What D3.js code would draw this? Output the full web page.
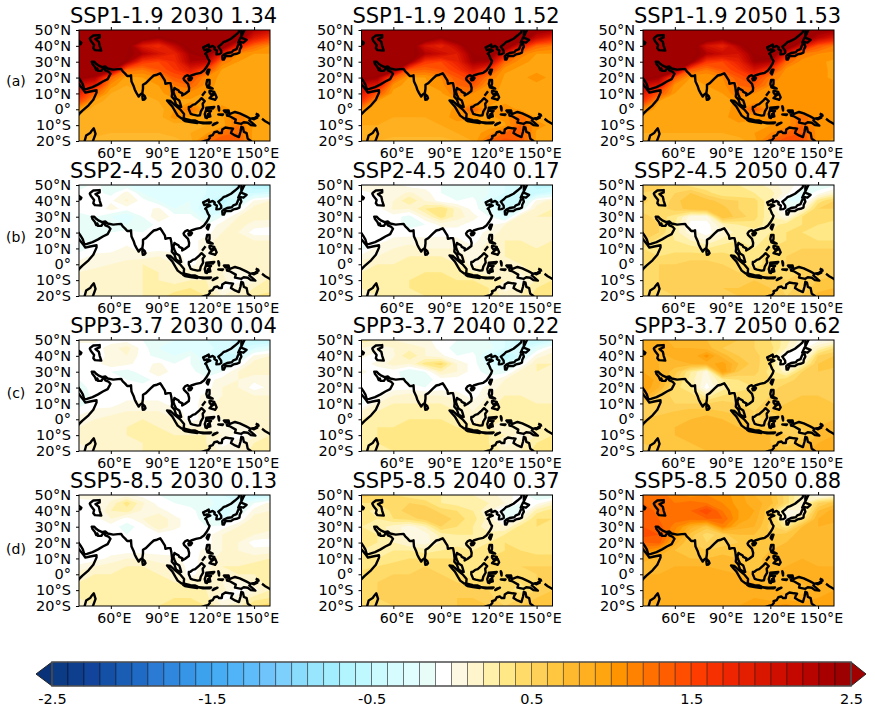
<!DOCTYPE html>
<html>
<head>
<meta charset="utf-8">
<script src="https://cdn.jsdelivr.net/npm/d3@7"></script>
<style>
body { margin: 0; background: #fff; }
text { font-family: "DejaVu Sans", sans-serif; fill: #000; }
</style>
</head>
<body>
<script>
// Grid the fields are read on: 10 deg in longitude, 5 deg in latitude
var gridLons = [40, 50, 60, 70, 80, 90, 100, 110, 120, 130, 140, 150, 160];
var gridLats = [50, 45, 40, 35, 30, 25, 20, 15, 10, 5, 0, -5, -10, -15, -20];

var titles = ["SSP1-1.9 2030 1.34", "SSP1-1.9 2040 1.52", "SSP1-1.9 2050 1.53",
    "SSP2-4.5 2030 0.02", "SSP2-4.5 2040 0.17", "SSP2-4.5 2050 0.47",
    "SPP3-3.7 2030 0.04", "SPP3-3.7 2040 0.22", "SPP3-3.7 2050 0.62",
    "SSP5-8.5 2030 0.13", "SSP5-8.5 2040 0.37", "SSP5-8.5 2050 0.88"];
var rowLabels = ["(a)", "(b)", "(c)", "(d)"];
var lonTicks = [60, 90, 120, 150];
var latTicks = [50, 40, 30, 20, 10, 0, -10, -20];
var barTicks = [-2.5, -1.5, -0.5, 0.5, 1.5, 2.5];

// Colour of each 0.1 wide band from -2.5 to 2.5, then the two extend arrows
var bandColors = ["#0c3b86", "#0e3f8f", "#11449a", "#1450a6", "#1a5db5", "#1f6ac4", "#2b7ad4", "#3088de", "#3695e6", "#3ca2ee",
    "#46acf4", "#52b4f8", "#5ebcfa", "#70c4fc", "#7dd0fc", "#8adcfd", "#97e6fe", "#a2eefe", "#b2f5ff", "#bff8ff",
    "#ccfbff", "#d6fcff", "#e0feff", "#e8fdf8", "#ffffff",
    "#fcf8e2", "#fff5cc", "#fff0aa", "#ffe885", "#ffdc6a", "#ffd058", "#ffc640", "#ffb92f", "#ffb020", "#ffa510",
    "#ff9400", "#ff8200", "#ff7000", "#ff5e00", "#ff4e00", "#ff3c00", "#f63000", "#ee2500", "#e41e00", "#d91600",
    "#cf0e00", "#c40800", "#b80400", "#a80000", "#9c0000"];
var lowColor = "#0a3278", highColor = "#a00000";

var ssp119_2030 = [
[2.8,2.8,2.8,2.8,2.8,2.7,2.8,2.8,2.8,2.7,2.6,2.3,2.1],
[2.8,2.8,2.8,2.8,2.6,2.4,2.6,2.7,2.8,2.8,2.6,1.9,1.6],
[2.8,2.8,2.8,2.6,1.9,1.7,2.2,2.6,2.8,2.7,1.8,1.3,1.1],
[2.8,2.8,2.7,2.5,2.3,2.0,1.8,2.4,2.6,1.8,1.1,1.0,1.0],
[2.8,2.8,2.8,2.4,1.6,1.5,1.7,2.3,2.2,1.2,1.0,.95,.95],
[2.8,2.8,2.5,1.3,1.2,1.4,1.6,1.9,1.5,.98,.95,.95,.95],
[2.5,2.3,1.3,.95,1.0,1.1,1.4,1.5,1.1,.95,.95,.95,.95],
[2.0,1.8,1.05,.9,.95,1.0,1.2,1.3,1.05,.95,.95,.95,.95],
[1.8,1.3,.9,.85,.9,.95,1.1,1.05,.98,.95,.95,.95,.95],
[1.5,.95,.85,.85,.85,.9,.95,.98,.98,.95,.95,.95,.95],
[1.0,.85,.85,.85,.85,.85,1.0,1.25,.95,1.05,.95,.95,.95],
[.85,.85,.85,.85,.85,.85,1.05,.98,.95,.98,1.2,.95,.95],
[.85,.85,.85,.8,.8,.85,.85,.85,.9,.95,1.2,.98,.95],
[.85,.85,.8,.8,.8,.8,.85,.9,.98,1.25,1.3,.95,.95],
[.8,.75,.75,.7,.7,.7,.75,.85,1.25,1.4,1.35,.95,.9]];

var ssp119_2040 = [
[2.8,2.8,2.8,2.8,2.8,2.8,2.8,2.8,2.8,2.8,2.7,2.5,2.4],
[2.8,2.8,2.8,2.8,2.7,2.4,2.7,2.8,2.8,2.8,2.7,2.1,1.8],
[2.8,2.8,2.8,2.7,2.0,1.8,2.2,2.7,2.8,2.8,1.9,1.3,1.2],
[2.8,2.8,2.8,2.6,2.3,2.1,1.9,2.5,2.7,1.9,1.2,1.0,1.0],
[2.8,2.8,2.8,2.5,1.6,1.5,1.8,2.4,2.3,1.3,1.02,.98,.98],
[2.8,2.8,2.6,1.4,1.3,1.4,1.6,2.0,1.6,1.02,.98,.98,.98],
[2.6,2.4,1.4,.98,1.0,1.1,1.4,1.6,1.2,.98,.98,1.03,.98],
[2.1,1.9,1.05,.95,.98,1.05,1.3,1.4,1.05,.98,.98,.98,.98],
[1.9,1.4,.95,.9,.95,.98,1.2,1.1,1.02,.98,.98,.98,.98],
[1.6,1.0,.9,.9,.9,.95,.98,1.03,1.03,.98,.98,.98,.98],
[1.1,.9,.9,.95,.9,.9,1.05,1.35,.98,1.05,.98,.98,.98],
[.9,.9,.9,.9,.9,.9,1.1,1.03,.98,1.03,1.3,.98,.98],
[.9,.9,.85,.85,.85,.9,.9,.9,.95,.98,1.3,1.03,.98],
[.85,.85,.85,.85,.85,.85,.9,.95,1.05,1.3,1.35,.98,.98],
[.8,.8,.75,.75,.75,.75,.8,.9,1.3,1.45,1.4,.98,.95]];

var ssp119_2050 = [
[2.8,2.8,2.8,2.8,2.8,2.8,2.8,2.8,2.8,2.8,2.7,2.5,2.4],
[2.8,2.8,2.8,2.8,2.7,2.5,2.7,2.8,2.8,2.8,2.7,2.2,1.9],
[2.8,2.8,2.8,2.7,2.0,1.8,2.3,2.7,2.8,2.8,2.0,1.4,1.2],
[2.8,2.8,2.8,2.6,2.3,2.1,2.0,2.5,2.7,1.9,1.2,1.1,1.05],
[2.8,2.8,2.8,2.5,1.6,1.5,1.8,2.4,2.3,1.3,1.05,1.02,.98],
[2.8,2.8,2.6,1.4,1.2,1.4,1.6,2.0,1.6,1.05,1.03,1.03,.98],
[2.6,2.4,1.4,1.0,1.0,1.1,1.4,1.6,1.2,1.03,1.03,1.03,.98],
[2.1,1.9,1.05,.95,1.0,1.05,1.3,1.4,1.1,1.03,1.03,1.03,1.03],
[1.9,1.4,1.0,.95,.95,1.0,1.2,1.1,1.05,1.03,1.03,1.03,1.03],
[1.6,1.0,.95,.95,.95,.95,1.03,1.03,1.03,1.03,1.03,1.03,1.03],
[1.1,.95,.95,.95,.95,.95,1.05,1.4,1.0,1.1,1.03,1.03,1.03],
[.95,.95,.95,.95,.95,.95,1.1,1.03,1.03,1.03,1.3,1.03,1.03],
[.95,.95,.9,.9,.9,.95,.95,.95,1.0,1.03,1.3,1.03,1.03],
[.9,.9,.9,.9,.9,.9,.95,1.0,1.1,1.3,1.4,1.03,1.03],
[.85,.85,.8,.8,.8,.85,.85,.95,1.3,1.5,1.45,1.03,.98]];

var ssp245_2030 = [
[-.2,-.05,-.2,-.2,-.25,-.3,-.3,-.3,-.3,-.35,-.45,-.6,-.7],
[-.05,-.05,-.15,.05,-.2,-.3,-.3,-.3,-.3,-.35,-.4,-.4,-.35],
[-.05,-.05,-.02,.12,-.05,-.2,-.25,-.2,-.35,-.55,-.4,.02,.1],
[-.05,-.1,.05,-.05,-.05,.03,-.2,-.2,-.4,-.45,-.1,.15,.15],
[-.15,-.1,-.2,-.3,-.1,.1,-.05,-.05,-.3,-.1,.1,.15,.15],
[-.15,-.15,-.15,-.2,-.2,-.05,-.05,-.05,-.1,.05,.15,.05,.02],
[-.2,-.15,-.1,-.05,-.1,-.05,-.05,-.05,-.05,.1,.1,-.05,-.05],
[-.2,-.1,-.05,-.05,-.05,-.05,-.05,-.05,.05,.15,.15,.1,.1],
[-.15,-.05,-.05,.03,-.05,-.05,-.05,-.05,.05,.15,.2,.15,.15],
[-.05,.03,.05,.05,.05,.1,.05,-.05,.05,.15,.15,.15,.15],
[.05,.05,.1,.15,.2,.15,.1,-.05,.1,.1,.15,.15,.2],
[.1,.15,.15,.15,.2,.2,.15,.15,.1,.1,.05,.15,.2],
[.1,.15,.15,.15,.2,.2,.15,.2,.2,.15,-.05,.05,.25],
[.1,.15,.15,.15,.2,.2,.25,.3,.25,-.05,.1,.2,.25],
[.05,.15,.15,.15,.2,.25,.35,.4,.3,.1,.15,.3,.35]];

var ssp245_2040 = [
[.1,.1,.05,-.05,-.05,-.1,-.15,-.15,-.2,-.3,-.4,-.55,-.55],
[-.05,.03,.05,.12,.05,-.1,-.15,-.15,-.2,-.3,-.4,-.45,-.35],
[-.05,-.05,.1,.3,.1,-.05,-.1,-.05,-.3,-.5,-.45,.03,.15],
[-.05,-.05,.12,.1,.3,.4,.15,-.05,-.2,-.4,-.2,.15,.2],
[-.05,-.05,-.05,-.15,.1,.35,.15,.05,-.1,-.3,.15,.2,.2],
[-.05,-.05,-.05,-.15,-.1,.03,.03,-.05,-.05,.1,.15,.1,.1],
[-.1,-.05,-.05,-.05,-.05,-.05,-.05,-.05,.03,.15,.15,.1,.1],
[-.1,-.05,.03,.05,.03,.05,.03,-.05,.1,.2,.2,.15,.2],
[-.15,.05,.1,.15,.1,.1,.1,.03,.15,.2,.2,.2,.25],
[.05,.1,.15,.2,.2,.2,.15,.05,.15,.2,.2,.2,.25],
[.15,.2,.2,.25,.25,.25,.2,.05,.15,.15,.2,.25,.25],
[.2,.25,.25,.25,.3,.3,.25,.2,.15,.1,.1,.25,.3],
[.2,.25,.25,.3,.3,.3,.3,.3,.25,.2,.05,.2,.3],
[.2,.25,.25,.3,.3,.3,.3,.35,.3,.05,.15,.3,.35],
[.15,.2,.25,.25,.3,.3,.35,.4,.3,.15,.2,.35,.35]];

var ssp245_2050 = [
[.55,.55,.45,.35,.3,.35,.3,.25,.15,.05,-.05,-.2,-.15],
[.5,.45,.5,.6,.45,.3,.3,.3,.25,.05,-.2,-.05,.15],
[.55,.4,.55,.7,.65,.55,.5,.45,.2,-.2,-.25,.35,.5],
[.45,.45,.55,.65,.7,.65,.5,.45,.2,-.15,.1,.5,.5],
[.55,.45,.35,.05,.05,.7,.55,.45,.2,.05,.4,.45,.45],
[.6,.5,.3,-.05,-.05,.2,.3,.35,.25,.35,.4,.4,.35],
[.55,.5,.25,.05,-.05,.1,.25,.25,.3,.4,.4,.3,.3],
[.5,.35,.3,.2,.1,.25,.3,.25,.35,.4,.4,.4,.4],
[.4,.35,.35,.35,.3,.35,.35,.3,.4,.45,.5,.5,.5],
[.4,.4,.45,.45,.45,.45,.4,.35,.45,.5,.5,.5,.5],
[.4,.5,.5,.55,.55,.5,.45,.35,.45,.5,.5,.5,.5],
[.45,.5,.5,.55,.55,.55,.5,.45,.5,.45,.5,.55,.55],
[.45,.5,.55,.55,.55,.55,.55,.6,.55,.5,.5,.6,.65],
[.45,.5,.5,.55,.55,.6,.6,.6,.6,.45,.55,.65,.7],
[.4,.45,.5,.5,.55,.55,.6,.65,.65,.5,.6,.75,.75]];

var spp370_2030 = [
[.03,.03,-.05,-.05,-.1,-.2,-.2,-.25,-.3,-.35,-.45,-.55,-.55],
[-.05,-.05,.05,.15,-.05,-.2,-.25,-.25,-.25,-.35,-.4,-.3,-.2],
[-.05,-.05,.03,.1,-.05,-.15,-.2,-.1,-.3,-.5,-.4,.03,.1],
[-.05,-.05,.08,.03,-.05,.03,-.1,-.1,-.25,-.4,-.1,.15,.15],
[-.1,-.05,-.1,-.15,-.05,.08,-.05,-.05,-.2,-.1,.1,.15,.15],
[-.1,-.05,-.05,-.1,-.15,-.05,-.05,-.05,-.05,.05,.1,.03,.03],
[-.15,-.05,-.05,-.05,-.05,-.05,-.05,-.05,-.05,.1,.1,-.05,.03],
[-.2,-.05,-.05,-.05,-.05,-.05,-.05,-.05,.03,.1,.15,.1,.1],
[-.15,-.05,-.05,.03,.03,.03,-.05,-.05,.05,.15,.15,.15,.15],
[-.05,.03,.05,.1,.1,.1,.05,-.05,.05,.15,.15,.15,.15],
[.05,.1,.15,.15,.2,.15,.1,-.05,.05,.1,.15,.15,.2],
[.1,.15,.15,.2,.2,.2,.15,.1,.1,.05,.05,.15,.2],
[.1,.15,.15,.2,.2,.2,.2,.2,.2,.1,-.05,.05,.2],
[.1,.15,.15,.15,.2,.2,.25,.25,.2,-.05,.05,.2,.25],
[.05,.1,.15,.15,.2,.25,.3,.3,.25,.05,.1,.25,.3]];

var spp370_2040 = [
[.25,.2,.1,.05,.03,-.05,-.1,-.15,-.2,-.3,-.5,-.55,-.4],
[.1,.05,.1,.15,.1,-.05,-.15,-.15,-.15,-.3,-.4,-.2,.03],
[.03,-.05,.08,.3,.1,.03,-.1,-.05,-.35,-.6,-.35,.05,.15],
[-.05,.03,.15,.1,.35,.45,.1,-.05,-.25,-.45,-.1,.2,.2],
[.03,-.05,-.05,-.2,-.1,.2,.1,-.05,-.15,-.15,.15,.2,.15],
[-.05,-.05,-.05,-.15,-.15,-.05,-.05,-.05,-.05,.1,.15,.1,.1],
[-.1,-.05,-.05,-.05,-.1,-.05,-.05,-.05,.03,.15,.15,.1,.1],
[-.1,-.05,.1,.15,.1,.1,.05,-.05,.1,.2,.2,.15,.15],
[-.15,.1,.2,.2,.2,.2,.15,.05,.15,.25,.25,.2,.2],
[.1,.2,.25,.25,.25,.25,.2,.1,.2,.25,.25,.25,.25],
[.2,.25,.25,.3,.3,.3,.25,.1,.2,.2,.25,.25,.25],
[.25,.3,.3,.3,.3,.3,.3,.25,.2,.15,.15,.25,.3],
[.25,.3,.3,.3,.3,.3,.3,.35,.3,.2,.05,.2,.3],
[.25,.3,.3,.3,.3,.3,.35,.35,.3,.05,.15,.3,.35],
[.2,.25,.3,.3,.3,.3,.35,.4,.35,.15,.2,.35,.35]];

var spp370_2050 = [
[.9,.85,.75,.7,.7,.65,.6,.5,.4,.25,.05,-.05,.03],
[.85,.85,.8,.8,.75,.6,.55,.5,.45,.2,-.05,.2,.4],
[.9,.75,.85,.8,1.05,.75,.6,.55,.4,-.05,-.1,.5,.6],
[.85,.8,.75,.8,.85,.95,.7,.55,.4,-.05,.2,.6,.65],
[.9,.8,.65,.3,.05,1.0,.6,.55,.35,.15,.5,.6,.55],
[1.0,.85,.55,.25,.03,.3,.4,.45,.4,.45,.55,.55,.5],
[1.0,.8,.45,.3,-.05,.25,.35,.4,.45,.55,.55,.5,.5],
[.9,.6,.45,.45,.25,.4,.45,.4,.5,.55,.6,.6,.55],
[.6,.5,.5,.5,.5,.55,.5,.45,.55,.6,.6,.6,.6],
[.55,.55,.6,.65,.65,.6,.55,.5,.6,.6,.65,.65,.65],
[.6,.65,.65,.7,.75,.7,.65,.45,.55,.6,.65,.65,.7],
[.65,.65,.7,.7,.75,.75,.7,.6,.6,.55,.6,.7,.75],
[.65,.65,.7,.7,.75,.75,.7,.75,.7,.6,.55,.7,.8],
[.6,.65,.65,.7,.7,.7,.75,.75,.7,.55,.65,.8,.85],
[.55,.6,.65,.65,.7,.7,.75,.8,.75,.65,.75,.85,.85]];

var ssp585_2030 = [
[.05,.1,.05,.03,-.05,-.1,-.15,-.2,-.2,-.3,-.4,-.5,-.45],
[-.05,-.05,.12,.35,.12,-.05,-.1,-.15,-.15,-.25,-.3,-.1,.03],
[-.05,-.05,.2,.25,.08,.05,-.05,-.05,-.2,-.4,-.25,.05,.1],
[-.05,-.05,.1,-.05,.1,.2,.03,-.05,-.15,-.3,-.1,.15,.15],
[-.05,-.05,-.05,-.15,-.05,.2,.03,-.05,-.1,-.05,.1,.15,.15],
[-.05,-.05,-.05,-.1,-.1,-.05,-.05,-.05,-.05,.1,.15,.1,.05],
[-.1,-.05,-.05,-.05,-.05,-.05,-.05,-.05,-.05,.1,.1,-.05,-.05],
[-.1,-.05,-.05,-.05,-.05,-.05,-.05,-.05,.03,.1,.1,.03,.05],
[-.1,-.05,.03,.1,.1,.05,.03,-.05,.05,.15,.15,.15,.2],
[.03,.1,.15,.2,.2,.15,.1,-.05,.05,.2,.2,.25,.25],
[.15,.2,.2,.2,.25,.2,.15,-.05,.1,.15,.2,.2,.25],
[.2,.2,.25,.25,.3,.25,.2,.15,.1,.1,.05,.15,.25],
[.2,.2,.25,.25,.25,.25,.25,.25,.2,.15,-.05,.05,.2],
[.2,.25,.25,.25,.25,.25,.3,.3,.25,-.05,.05,.25,.3],
[.15,.2,.25,.25,.25,.3,.35,.35,.3,.1,.15,.4,.45]];

var ssp585_2040 = [
[.55,.5,.4,.35,.3,.3,.25,.2,.15,.05,-.05,-.2,-.25],
[.4,.4,.45,.5,.45,.3,.25,.2,.2,.1,-.1,-.05,.15],
[.35,.25,.45,.55,.6,.45,.4,.3,.1,-.15,-.15,.25,.35],
[.3,.3,.4,.45,.55,.6,.45,.35,.15,-.2,.1,.4,.4],
[.3,.25,.15,.05,.2,.5,.4,.3,.1,.1,.35,.4,.35],
[.35,.3,.15,.05,.05,.25,.3,.3,.25,.3,.35,.35,.3],
[.35,.3,.2,.1,.05,.2,.25,.25,.3,.4,.35,.3,.3],
[.3,.25,.3,.3,.25,.3,.35,.3,.35,.4,.4,.35,.35],
[.3,.3,.35,.4,.4,.4,.4,.35,.4,.45,.45,.45,.45],
[.35,.4,.45,.45,.5,.45,.4,.3,.45,.45,.5,.5,.5],
[.45,.45,.5,.5,.5,.5,.45,.3,.4,.45,.45,.5,.5],
[.45,.5,.5,.5,.55,.55,.5,.45,.45,.4,.4,.5,.55],
[.45,.5,.5,.5,.55,.55,.55,.55,.5,.45,.35,.5,.6],
[.45,.5,.5,.5,.5,.55,.6,.6,.55,.4,.5,.6,.65],
[.4,.45,.5,.5,.55,.55,.6,.65,.6,.5,.6,.7,.7]];

var ssp585_2050 = [
[1.2,1.25,1.15,1.05,1.1,1.05,.95,.8,.7,.45,.15,-.05,.05],
[1.3,1.2,1.2,1.25,1.2,1.1,.95,.85,.75,.45,.15,.5,.65],
[1.4,1.25,1.25,1.3,1.5,1.2,1.0,.9,.6,.05,.1,.7,.85],
[1.35,1.3,1.25,1.25,1.3,1.3,1.0,.85,.6,.05,.35,.8,.85],
[1.4,1.35,1.15,.85,.65,1.15,.85,.8,.55,.35,.7,.8,.75],
[1.45,1.4,1.05,.65,.45,.55,.7,.7,.6,.65,.75,.7,.7],
[1.3,1.35,.85,.6,.5,.55,.6,.6,.65,.7,.75,.7,.7],
[1.1,.95,.7,.65,.6,.65,.65,.6,.7,.75,.75,.75,.7],
[.85,.75,.75,.7,.7,.75,.7,.65,.75,.75,.8,.75,.75],
[.75,.75,.8,.8,.8,.75,.7,.65,.75,.8,.8,.8,.8],
[.8,.8,.8,.85,.9,.85,.8,.7,.8,.8,.8,.8,.85],
[.8,.8,.85,.85,.9,.85,.8,.8,.75,.75,.8,.85,.85],
[.8,.85,.85,.85,.85,.85,.85,.85,.85,.75,.75,.85,.9],
[.8,.8,.85,.85,.85,.85,.85,.9,.85,.85,.85,.9,.95],
[.75,.8,.8,.8,.85,.85,.9,.95,1.0,1.05,.95,.95,1.0]];

var fields = [ssp119_2030, ssp119_2040, ssp119_2050, ssp245_2030, ssp245_2040, ssp245_2050,
    spp370_2030, spp370_2040, spp370_2050, ssp585_2030, ssp585_2040, ssp585_2050];

// Coastlines as lon/lat, open lines first, then closed rings
var coastAfrica = [[38,-6],[40,-3],[42,-1],[46,2.5],[49,6],[51,10.5],[51,12],[47,11.2],[44,10.5],[43,12],[41,14.5],[38,18]];
var coastAsia = [[37,25],[39,21],[41,18],[42.5,15.5],[43.3,12.7],[45,12.8],[48.5,14],[52,15.7],[55,17.5],[58,19],[59.8,22.4],[58.5,23.7],[56.5,24.5],[56.3,26.2],[55,25.5],[54,24.2],[52,24.2],[51.5,25.8],[50.8,24.8],[50,26.7],[48.5,28.5],[48,30],[49.5,30],[51,28.5],[52.5,27.5],[54.5,26.6],[56.5,27],[58,25.7],[61.5,25],[64.5,25.3],[66.5,25.4],[67.5,23.9],[69,22.5],[70.3,21],[72,21],[72.7,21.5],[72.8,19.5],[73,17.5],[74.3,14.7],[75,12.5],[76,10.5],[77.5,8],[78.2,9],[79.8,10.3],[80.2,13],[80.2,15.5],[82,16.5],[85,19.5],[87,21.3],[89,21.8],[91,22.7],[92.3,20.8],[94,18],[94.3,16],[96,16.5],[97.5,16.5],[98,14],[98.5,10],[98.3,8],[100,6],[101,3],[103.5,1.5],[104.2,1.5],[103.5,4],[103,5.5],[101,6.8],[100,9],[99.3,11],[100,13.5],[101,12.7],[102.5,12],[103,11],[105,10],[104.8,8.7],[106.5,9.6],[109,11.5],[109.2,13.5],[108.5,16],[106,18.5],[105.7,19.5],[106.7,20.8],[108,21.5],[110,20.5],[110.5,21.3],[113.5,22.3],[116.5,23],[118.5,24.5],[120,26.5],[121.5,29],[122,30.5],[121,32],[120,34.5],[119.3,35],[120.5,36.2],[122.5,37],[120.5,37.8],[118.8,37.3],[118,39],[120,40],[121.5,40.8],[121.7,39],[124,40],[125.3,39],[125,38],[126.6,37],[126.3,34.6],[128,34.8],[129.4,35.5],[129.3,37],[127.5,39.5],[129.5,41],[130.7,42.3],[132.5,43],[135.5,44.5],[138,46.5],[140.3,48.5],[141,52]];
var coastAustralia = [[114,-22],[116,-21],[119,-20],[121,-19.5],[122.3,-18],[122,-17],[124,-16.3],[125,-14.5],[127,-14],[128,-15],[129.7,-15],[130,-12.8],[132,-11.5],[135,-12],[136.8,-12.2],[136,-13.5],[135.5,-15],[138,-16.5],[140.5,-17.5],[141.5,-14],[142,-11],[143,-11.5],[143.6,-14.3],[145.3,-15],[146,-18.5],[148,-20],[149,-22]];
var coastSolomon = [[155,-6],[157,-7.5],[159.5,-9],[161,-10]];
var coastIreland = [[151,-2.7],[152.5,-3.3],[153,-4.7]];
var coastPalawan = [[117.3,8.5],[119.5,11.3]];
var openCoasts = [coastAfrica, coastAsia, coastAustralia, coastSolomon, coastIreland, coastPalawan];

var ringMadagascar = [[49.3,-12],[50.4,-15.5],[49.5,-18],[48,-22],[44,-25],[43.3,-21],[44.5,-16.5],[47,-15],[48,-13.5]];
var ringCaspian = [[47,45],[49,46.5],[53,46.8],[53,45.3],[51,44.5],[50.3,44.3],[52.5,42.5],[53,40],[54,37],[50,37.3],[49,38.5],[49.5,40.5],[47.5,43],[46.8,44.5]];
var ringBlackSea = [[41.5,42],[40,43],[38,44.5],[36,45],[38,41],[41,41]];
var ringSriLanka = [[80,9.5],[81.2,8.5],[81.8,7],[81,6.1],[80.1,6],[79.8,8]];
var ringHainan = [[108.7,19.3],[110,20],[111,19.6],[110.3,18.5],[109,18.3]];
var ringTaiwan = [[121,25],[122,25],[121,22],[120.2,23]];
var ringSumatra = [[95.3,5.6],[97.5,5.2],[100.4,2.5],[103.5,0],[106,-3],[105.8,-5.8],[104.5,-5.8],[102,-4],[100.5,-1.5],[98.7,1.7],[97,3.5]];
var ringJava = [[105.5,-6.8],[106.8,-6],[110,-6.9],[112.7,-7],[114.5,-7.8],[114.3,-8.7],[110,-8.1],[106.5,-7.4]];
var ringBorneo = [[109,1.5],[110,1.6],[111.5,2.8],[113,3.2],[115.5,5.5],[117,7],[119,5.2],[117.7,3.5],[118,1],[116.5,-1.5],[116,-3.8],[114.5,-4],[111.7,-3.4],[110.2,-2.9],[109,0]];
var ringSulawesi = [[120,1],[125,1.5],[124,0.4],[120.5,0.3],[120,-1],[123,-1],[122,-2],[122.5,-4.5],[121.5,-4.7],[121,-3],[120.4,-5.5],[119.5,-5.3],[119,-3],[119.8,-0.5]];
var ringLuzon = [[120.5,18.5],[122,18.5],[122,16],[121.5,14.3],[124,13],[123,13],[120.7,13.8],[120,16]];
var ringMindanao = [[122,7],[123.5,8.5],[125.5,9.8],[126.5,7.5],[125.5,6],[124,6.5]];
var ringVisayas = [[122,11.5],[123,11.5],[125,11],[125,10],[123,9.2],[122,10.5]];
var ringFlores = [[115,-8.2],[119,-8.4],[123,-8.3],[122,-8.9],[118,-8.8]];
var ringTimor = [[124,-10],[127,-8.4],[125,-9]];
var ringCeram = [[127.5,-3.2],[130.5,-3.2],[130,-3.7],[128,-3.4]];
var ringHalmahera = [[127.5,2],[128,1],[128,-0.8],[127.7,0.5]];
var ringNewGuinea = [[131,-0.8],[134,-0.8],[134.5,-3],[138,-1.7],[141,-2.6],[145,-4.5],[147.8,-6],[147,-7],[150.8,-10.3],[148,-10],[146,-8.5],[143.5,-8.2],[142,-9.2],[138,-8.4],[138.5,-6.5],[135,-4.5],[133,-4],[132.8,-2.8],[133.8,-2.2],[132,-2]];
var ringNewBritain = [[148.5,-5.7],[150.5,-5.5],[152,-4.2],[152,-5.3],[150,-6.3]];
var ringHonshu = [[130,33.5],[131,34.5],[133,35.5],[136,36],[137,37.2],[139,38],[140,40.5],[141.5,41.3],[142,39.5],[141,37.5],[140.8,35.7],[139,35],[137,34.6],[135.5,33.6],[133,33.7],[132,33.5],[131,31.3],[130.2,31.3]];
var ringHokkaido = [[140,42],[141.5,45.3],[145.3,43.8],[143.3,42],[141,42.5]];
var ringSakhalin = [[142,46],[143.5,49],[144,50],[143,54],[142,52]];
var closedCoasts = [ringMadagascar, ringCaspian, ringBlackSea, ringSriLanka, ringHainan, ringTaiwan, ringSumatra, ringJava, ringBorneo,
    ringSulawesi, ringLuzon, ringMindanao, ringVisayas, ringFlores, ringTimor, ringCeram, ringHalmahera, ringNewGuinea, ringNewBritain,
    ringHonshu, ringHokkaido, ringSakhalin];

// Layout of the page
var svgWidth = 875, svgHeight = 714,
    colLefts = [79, 361.5, 643],
    rowTops = [30, 185, 340, 495],
    panelWidth = 191, panelHeight = 111;

var levels = d3.range(bandColors.length).map(function(i){ return Math.round((-2.5 + i * 0.1) * 10) / 10; });
levels.push(2.5);
var fillColors = bandColors.concat([highColor]);

var svg = d3.select("body").append("svg")
    .attr("width", svgWidth)
    .attr("height", svgHeight)
    .style("display", "block");

fields.forEach(function(field, i){
    drawPanel(field, titles[i], colLefts[i % 3], rowTops[Math.floor(i / 3)], i);
});

svg.selectAll(".rowLabel")
    .data(rowLabels)
    .enter()
    .append("text")
    .attr("class", "rowLabel")
    .attr("x", 16)
    .attr("y", function(d, i){ return rowTops[i] + 56 + i; })
    .attr("text-anchor", "middle")
    .style("font-size", "14px")
    .text(function(d){ return d; });

drawColorbar();

function drawPanel(field, title, left, top, index){
    var x = d3.scaleLinear().domain([40, 160]).range([0, panelWidth]);
    var y = d3.scaleLinear().domain([50, -20]).range([0, panelHeight]);

    // d3.contours puts sample i at i + 0.5
    var lonOfGrid = d3.scaleLinear().domain([0.5, gridLons.length - 0.5]).range([gridLons[0], gridLons[gridLons.length - 1]]);
    var latOfGrid = d3.scaleLinear().domain([0.5, gridLats.length - 0.5]).range([gridLats[0], gridLats[gridLats.length - 1]]);
    var gridPath = d3.geoPath(d3.geoTransform({
        point: function(px, py){ this.stream.point(x(lonOfGrid(px)), y(latOfGrid(py))); }
    }));

    var g = svg.append("g").attr("transform", "translate(" + left + "," + top + ")");

    var clipId = "clip" + index;
    g.append("clipPath").attr("id", clipId)
        .append("rect").attr("width", panelWidth).attr("height", panelHeight);

    var map = g.append("g").attr("clip-path", "url(#" + clipId + ")");

    var contours = d3.contours()
        .size([gridLons.length, gridLats.length])
        .thresholds(levels)(d3.merge(field));

    map.selectAll(".band")
        .data(contours)
        .enter()
        .append("path")
        .attr("class", "band")
        .attr("d", gridPath)
        .attr("fill", function(d, i){ return fillColors[i]; });

    var coast = d3.line()
        .x(function(d){ return x(d[0]); })
        .y(function(d){ return y(d[1]); });

    map.selectAll(".coast")
        .data(openCoasts)
        .enter()
        .append("path")
        .attr("class", "coast")
        .attr("d", coast);

    map.selectAll(".island")
        .data(closedCoasts)
        .enter()
        .append("path")
        .attr("class", "island")
        .attr("d", function(d){ return coast(d) + "Z"; });

    map.selectAll(".coast,.island")
        .attr("fill", "none")
        .attr("stroke", "#000")
        .attr("stroke-width", 2.4)
        .attr("stroke-linejoin", "round");

    g.append("rect")
        .attr("width", panelWidth)
        .attr("height", panelHeight)
        .attr("fill", "none")
        .attr("stroke", "#000")
        .attr("stroke-width", 1);

    // Bottom axis with the labels, a bare one on top
    var bottom = g.append("g")
        .attr("transform", "translate(0," + panelHeight + ")")
        .call(d3.axisBottom(x).tickValues(lonTicks).tickSize(3).tickPadding(4)
            .tickFormat(function(d){ return d + "°E"; }));
    bottom.selectAll("text").attr("dx", 3).style("font-size", "14.2px");

    g.append("g")
        .call(d3.axisTop(x).tickValues(lonTicks).tickSize(3).tickFormat(""));

    var leftAxis = g.append("g")
        .call(d3.axisLeft(y).tickValues(latTicks).tickSize(3).tickPadding(5)
            .tickFormat(function(d){
                if (d === 0) return "0°";
                return Math.abs(d) + (d > 0 ? "°N" : "°S");
            }));
    leftAxis.selectAll("text").style("font-size", "14.5px");

    g.selectAll(".domain").remove();
    g.selectAll(".tick text")
        .style("font-family", '"DejaVu Sans", sans-serif');

    g.append("text")
        .attr("x", panelWidth / 2 - 1)
        .attr("y", -7)
        .attr("text-anchor", "middle")
        .style("font-size", "21px")
        .text(title);
}

function drawColorbar(){
    var barTop = 662, barHeight = 24, tipLeft = 36, tipRight = 866;
    var x = d3.scaleLinear().domain([-2.5, 2.5]).range([52, 851]);
    var cells = d3.range(bandColors.length);
    var bar = svg.append("g").attr("transform", "translate(0," + barTop + ")");

    bar.selectAll(".cell")
        .data(cells)
        .enter()
        .append("rect")
        .attr("class", "cell")
        .attr("x", function(d){ return x(levels[d]); })
        .attr("width", function(d){ return x(levels[d + 1]) - x(levels[d]); })
        .attr("height", barHeight)
        .attr("fill", function(d){ return bandColors[d]; })
        .attr("stroke", "#000")
        .attr("stroke-opacity", 0.5)
        .attr("stroke-width", 0.8);

    bar.append("path")
        .attr("d", d3.line()([[x(-2.5), 0], [tipLeft, barHeight / 2], [x(-2.5), barHeight]]) + "Z")
        .attr("fill", lowColor)
        .attr("stroke", "#222");

    bar.append("path")
        .attr("d", d3.line()([[x(2.5), 0], [tipRight, barHeight / 2], [x(2.5), barHeight]]) + "Z")
        .attr("fill", highColor)
        .attr("stroke", "#222");

    bar.append("rect")
        .attr("x", x(-2.5))
        .attr("width", x(2.5) - x(-2.5))
        .attr("height", barHeight)
        .attr("fill", "none")
        .attr("stroke", "#555")
        .attr("stroke-width", 1.4);

    var axis = bar.append("g")
        .attr("transform", "translate(0," + barHeight + ")")
        .call(d3.axisBottom(x).tickValues(barTicks).tickSize(0).tickPadding(8)
            .tickFormat(function(d){ return d3.format(".1f")(d).replace("−", "-"); }));
    axis.select(".domain").remove();
    axis.selectAll("text")
        .style("font-family", '"DejaVu Sans", sans-serif')
        .style("font-size", "14.5px");
}
</script>
</body>
</html>
